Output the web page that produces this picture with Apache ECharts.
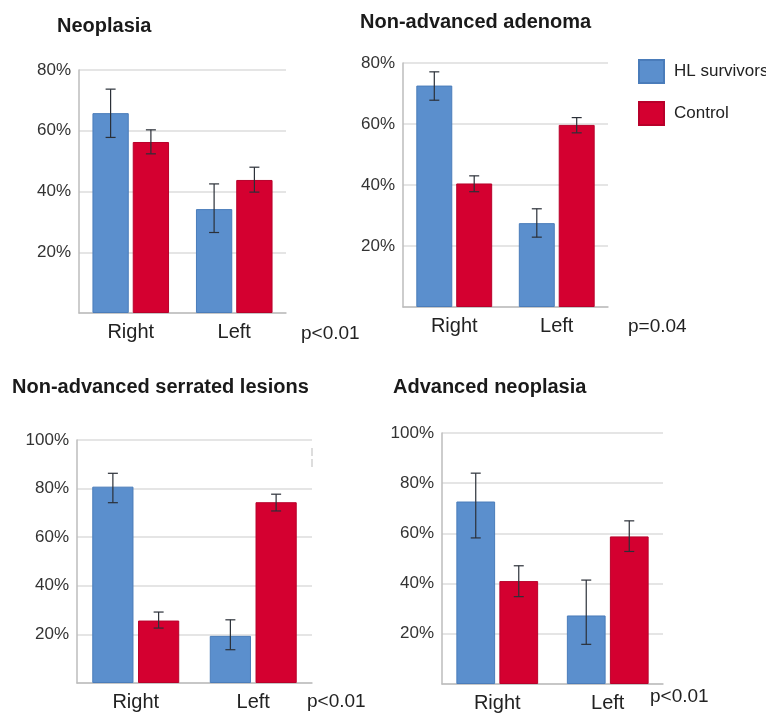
<!DOCTYPE html>
<html>
<head>
<meta charset="utf-8">
<script src="https://cdn.jsdelivr.net/npm/echarts@6/dist/echarts.min.js"></script>
<style>
html,body{margin:0;padding:0;background:#fff;}
#chart{width:766px;height:713px;}
</style>
</head>
<body>
<div id="chart"></div>
<script>
// ---- data ----
const categories = ['Right', 'Left'];
const seriesNames = ['HL survivors', 'Control'];
const panelTitles = ['Neoplasia', 'Non-advanced adenoma', 'Non-advanced serrated lesions', 'Advanced neoplasia'];
const pValues = ['p<0.01', 'p=0.04', 'p<0.01', 'p<0.01'];
const axisMax = [80, 80, 100, 100];
const yTickStep = 20;

// values (%) per panel: [Right, Left]
const neoplasiaHL = [65.8, 34.2];
const neoplasiaCtrl = [56.3, 43.8];
const neoplasiaHLErr = [[57.8, 73.7], [26.5, 42.5]];
const neoplasiaCtrlErr = [[52.4, 60.3], [39.8, 48.0]];

const adenomaHL = [72.6, 27.5];
const adenomaCtrl = [40.5, 59.7];
const adenomaHLErr = [[67.8, 77.1], [22.9, 32.2]];
const adenomaCtrlErr = [[37.8, 43.0], [57.1, 62.1]];

const serratedHL = [80.8, 19.4];
const serratedCtrl = [25.7, 74.4];
const serratedHLErr = [[74.2, 86.3], [13.7, 26.0]];
const serratedCtrlErr = [[22.6, 29.2], [70.8, 77.7]];

const advancedHL = [72.7, 27.3];
const advancedCtrl = [41.0, 58.8];
const advancedHLErr = [[58.2, 84.0], [15.8, 41.4]];
const advancedCtrlErr = [[34.8, 47.1], [52.8, 65.0]];

const panelValues = [
  [neoplasiaHL, neoplasiaCtrl],
  [adenomaHL, adenomaCtrl],
  [serratedHL, serratedCtrl],
  [advancedHL, advancedCtrl]
];
const panelErrors = [
  [neoplasiaHLErr, neoplasiaCtrlErr],
  [adenomaHLErr, adenomaCtrlErr],
  [serratedHLErr, serratedCtrlErr],
  [advancedHLErr, advancedCtrlErr]
];

// ---- layout / style ----
const FONT = 'Liberation Sans, Arial, sans-serif';
const colors = ['#5b8fcd', '#d40030'];
const borders = ['#4a7cba', '#b8002a'];
const grids = [
  {left: 79, top: 70, width: 207, height: 243},
  {left: 403, top: 63, width: 205, height: 244},
  {left: 77, top: 440, width: 235, height: 243},
  {left: 442, top: 433, width: 221, height: 253}
];
const titlePos = [
  {left: 57, top: 16},
  {left: 360, top: 12},
  {left: 12, top: 377},
  {left: 393, top: 377}
];
const pPos = [
  {left: 301, top: 324},
  {left: 628, top: 317},
  {left: 307, top: 692},
  {left: 650, top: 687}
];
const barCatGap = 0.26;
const barGapRatio = 0.11;

const option = {
  backgroundColor: '#fff',
  animation: false,
  textStyle: {fontFamily: FONT},
  title: [],
  legend: {
    data: seriesNames,
    orient: 'vertical',
    left: 638, top: 59,
    itemWidth: 25, itemHeight: 23, itemGap: 17,
    padding: 0,
    icon: 'rect',
    textStyle: {fontSize: 17, color: '#222', fontFamily: FONT, padding: [0, 0, 0, 5]}
  },
  grid: [], xAxis: [], yAxis: [], series: [],
  graphic: [{
    type: 'line', shape: {x1: 312, y1: 448, x2: 312, y2: 468},
    style: {stroke: '#bbb', lineWidth: 1, lineDash: [8, 3]}
  }]
};

for (let p = 0; p < 4; p++) {
  option.title.push({
    text: panelTitles[p], left: titlePos[p].left, top: titlePos[p].top, padding: 0,
    textStyle: {fontSize: 20, fontWeight: 'bold', color: '#1a1a1a', fontFamily: FONT}
  });
  option.title.push({
    text: pValues[p], left: pPos[p].left, top: pPos[p].top, padding: 0,
    textStyle: {fontSize: 19, fontWeight: 'normal', color: '#222', fontFamily: FONT}
  });
  option.grid.push(Object.assign({containLabel: false}, grids[p]));
  option.xAxis.push({
    type: 'category', gridIndex: p, data: categories,
    axisLine: {lineStyle: {color: '#bdbdbd', width: 1.5}},
    axisTick: {show: false},
    axisLabel: {fontSize: 20, color: '#222', margin: 9, fontFamily: FONT}
  });
  option.yAxis.push({
    type: 'value', gridIndex: p, min: 0, max: axisMax[p], interval: yTickStep,
    axisLine: {show: true, lineStyle: {color: '#bdbdbd', width: 1.5}},
    axisTick: {show: false},
    splitLine: {lineStyle: {color: '#dcdcdc', width: 1.5}},
    axisLabel: {fontSize: 17, color: '#333', margin: 8, showMinLabel: false, formatter: '{value}%', fontFamily: FONT}
  });
  for (let s = 0; s < 2; s++) {
    option.series.push({
      type: 'bar', name: seriesNames[s], xAxisIndex: p, yAxisIndex: p,
      data: panelValues[p][s],
      barCategoryGap: (barCatGap * 100) + '%', barGap: (barGapRatio * 100) + '%',
      itemStyle: {color: colors[s], borderColor: borders[s], borderWidth: 1},
      emphasis: {disabled: true}
    });
  }
  for (let s = 0; s < 2; s++) {
    const errData = panelErrors[p][s].map((e, i) => [i, e[0], e[1]]);
    option.series.push({
      type: 'custom', name: seriesNames[s] + ' error', xAxisIndex: p, yAxisIndex: p,
      data: errData, z: 10, silent: true,
      encode: {x: 0, y: [1, 2]},
      renderItem: (function (sIdx) {
        return function (params, api) {
          const cat = api.value(0);
          const lo = api.coord([cat, api.value(1)]);
          const hi = api.coord([cat, api.value(2)]);
          const band = api.size([1, 0])[0];
          const groupW = band * (1 - barCatGap);
          const w = groupW / (2 + barGapRatio);
          const x = lo[0] - groupW / 2 + w / 2 + sIdx * w * (1 + barGapRatio);
          const cap = 5;
          const st = {stroke: '#2b3038', lineWidth: 1.2};
          return {
            type: 'group',
            children: [
              {type: 'line', shape: {x1: x, y1: lo[1], x2: x, y2: hi[1]}, style: st},
              {type: 'line', shape: {x1: x - cap, y1: lo[1], x2: x + cap, y2: lo[1]}, style: st},
              {type: 'line', shape: {x1: x - cap, y1: hi[1], x2: x + cap, y2: hi[1]}, style: st}
            ]
          };
        };
      })(s)
    });
  }
}

const chart = echarts.init(document.getElementById('chart'), null, {renderer: 'canvas'});
chart.setOption(option);
</script>
</body>
</html>
